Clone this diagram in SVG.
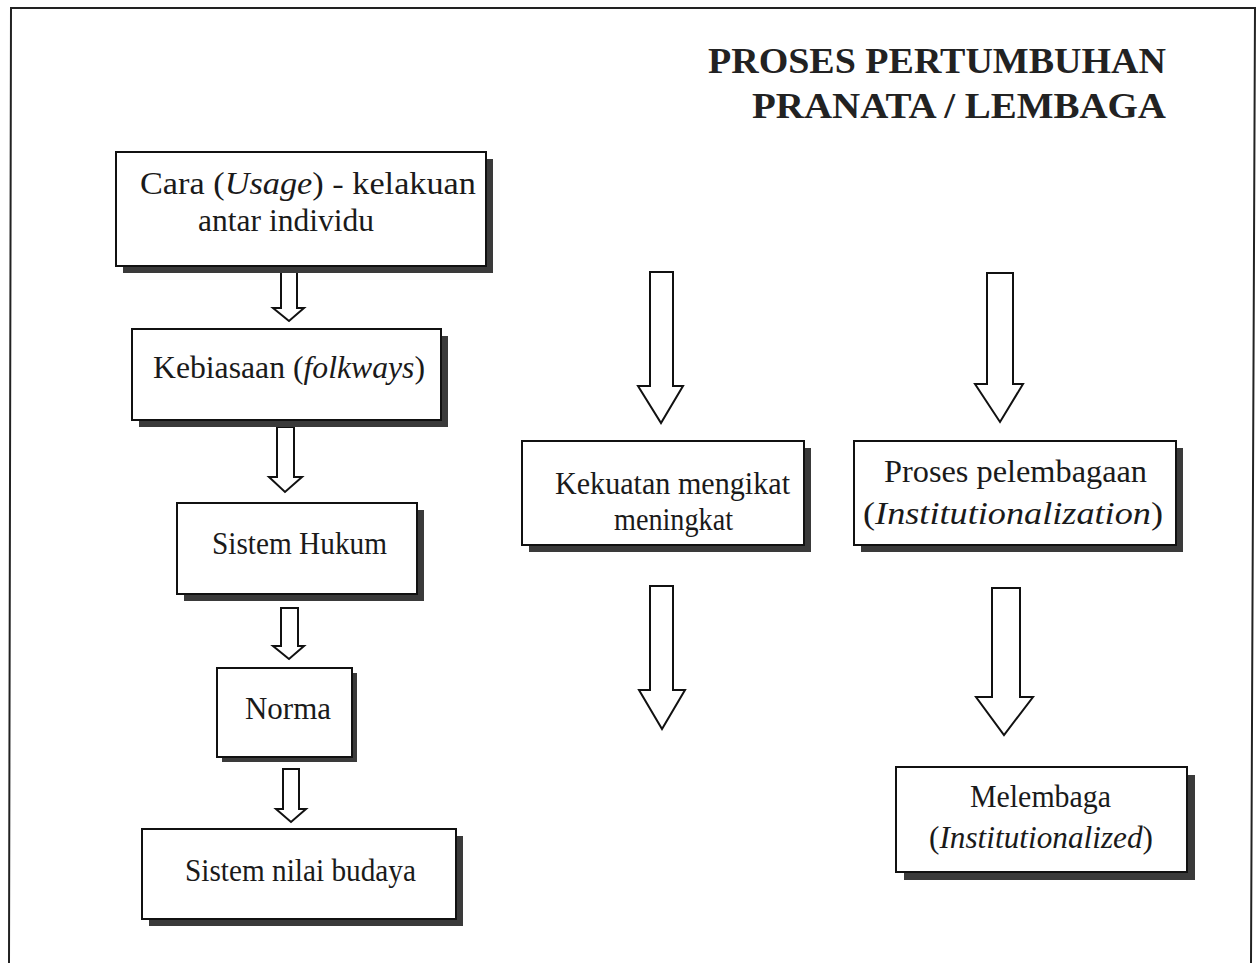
<svg xmlns="http://www.w3.org/2000/svg" width="1257" height="963" viewBox="0 0 1257 963">
<style>
.box{fill:#fff;stroke:#111;stroke-width:2}
.sh{fill:#3a3a3a}
.arr{fill:#fff;stroke:#111;stroke-width:2;stroke-linejoin:miter}
.t{font-size:31px;fill:#1a1a1a}
.ttl{font-size:36px;font-weight:bold;fill:#222;text-anchor:end}
</style>
<rect x="0" y="0" width="1257" height="963" fill="#fff"/>
<g id="frame" fill="none" stroke="#222" stroke-width="2">
<path d="M9,963 L11,8 L1255,8 L1251,963"/>
</g>
<g id="title" font-family="Liberation Serif, DejaVu Serif, serif">
<text class="ttl" x="1166" y="73" textLength="458" lengthAdjust="spacingAndGlyphs">PROSES PERTUMBUHAN</text>
<text class="ttl" x="1166" y="118" textLength="414" lengthAdjust="spacingAndGlyphs">PRANATA / LEMBAGA</text>
</g>
<g id="connectors">
<polygon class="arr" points="281,272 297,272 297,308 304,308 289,321 273,308 281,308"/>
<polygon class="arr" points="277,427 294,427 294,477 302,477 285,492 269,477 277,477"/>
<polygon class="arr" points="281,608 298,608 298,646 304,646 289,659 273,646 281,646"/>
<polygon class="arr" points="283,769 299,769 299,809 306,809 291,822 276,809 283,809"/>
<polygon class="arr" points="650,272 673,272 673,386 683,386 661,423 638,386 650,386"/>
<polygon class="arr" points="650,586 673,586 673,690 685,690 662,729 639,690 650,690"/>
<polygon class="arr" points="987,273 1013,273 1013,384 1023,384 1000,422 975,384 987,384"/>
<polygon class="arr" points="992,588 1020,588 1020,697 1033,697 1004,735 976,697 992,697"/>
</g>
<g font-family="Liberation Serif, DejaVu Serif, serif">
<g id="n1">
<rect class="sh" x="123" y="159" width="370" height="114"/>
<rect class="box" x="116" y="152" width="370" height="114"/>
<text class="t" x="140" y="194" textLength="336" lengthAdjust="spacingAndGlyphs">Cara (<tspan font-style="italic">Usage</tspan>) - kelakuan</text>
<text class="t" x="198" y="231" textLength="176" lengthAdjust="spacingAndGlyphs">antar individu</text>
</g>
<g id="n2">
<rect class="sh" x="139" y="336" width="309" height="91"/>
<rect class="box" x="132" y="329" width="309" height="91"/>
<text class="t" x="153" y="378" textLength="272" lengthAdjust="spacingAndGlyphs">Kebiasaan (<tspan font-style="italic">folkways</tspan>)</text>
</g>
<g id="n3">
<rect class="sh" x="184" y="510" width="240" height="91"/>
<rect class="box" x="177" y="503" width="240" height="91"/>
<text class="t" x="212" y="554" textLength="175" lengthAdjust="spacingAndGlyphs">Sistem Hukum</text>
</g>
<g id="n4">
<rect class="sh" x="222" y="673" width="135" height="89"/>
<rect class="box" x="217" y="668" width="135" height="89"/>
<text class="t" x="245" y="719" textLength="86" lengthAdjust="spacingAndGlyphs">Norma</text>
</g>
<g id="n5">
<rect class="sh" x="149" y="836" width="314" height="90"/>
<rect class="box" x="142" y="829" width="314" height="90"/>
<text class="t" x="185" y="881" textLength="231" lengthAdjust="spacingAndGlyphs">Sistem nilai budaya</text>
</g>
<g id="n6">
<rect class="sh" x="529" y="448" width="282" height="104"/>
<rect class="box" x="522" y="441" width="282" height="104"/>
<text class="t" x="555" y="494" textLength="235" lengthAdjust="spacingAndGlyphs">Kekuatan mengikat</text>
<text class="t" x="614" y="530" textLength="119" lengthAdjust="spacingAndGlyphs">meningkat</text>
</g>
<g id="n7">
<rect class="sh" x="861" y="448" width="322" height="104"/>
<rect class="box" x="854" y="441" width="322" height="104"/>
<text class="t" x="884" y="482" textLength="263" lengthAdjust="spacingAndGlyphs">Proses pelembagaan</text>
<text class="t" x="863" y="524" textLength="300" lengthAdjust="spacingAndGlyphs">(<tspan font-style="italic">Institutionalization</tspan>)</text>
</g>
<g id="n8">
<rect class="sh" x="904" y="775" width="291" height="105"/>
<rect class="box" x="896" y="767" width="291" height="105"/>
<text class="t" x="970" y="807" textLength="141" lengthAdjust="spacingAndGlyphs">Melembaga</text>
<text class="t" x="929" y="848" textLength="224" lengthAdjust="spacingAndGlyphs">(<tspan font-style="italic">Institutionalized</tspan>)</text>
</g>
</g>
</svg>
